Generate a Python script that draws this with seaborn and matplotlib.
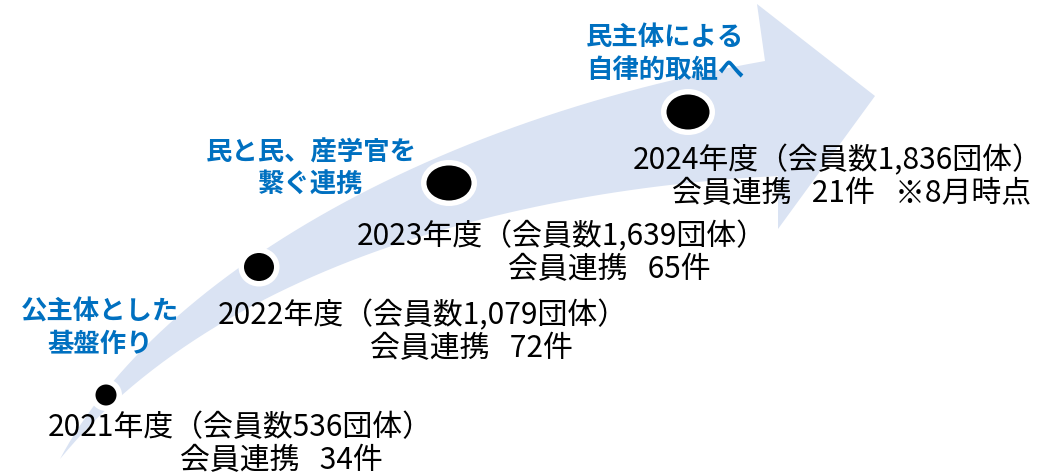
import numpy as np
import pandas as pd
import matplotlib.pyplot as plt
import seaborn as sns
from matplotlib.patches import Polygon, Ellipse

# データ
years = ["2021", "2022", "2023", "2024"]
members = ["536", "1,079", "1,639", "1,836"]
links = [34, 72, 65, 21]
notes = ["", "", "", "   ※8月時点"]
stages = ["公主体とした\n基盤作り", "民と民、産学官を\n繋ぐ連携", "民主体による\n自律的取組へ"]

# レイアウト (ピクセル座標)
dot_x = [106, 259, 449, 688]
dot_y = [396, 268, 184, 113]
dot_w = [21, 30, 45, 43]
dot_h = [21, 28, 35, 35]
line1_x = [48, 218, 357, 633]
line1_y = [428, 316, 237, 161]
line2_x = [180, 370, 508, 672]
stage_x = [100, 311, 665]
stage_y = [328, 169, 54]

sns.set_theme(style="white")
plt.rcParams['font.family'] = ['Noto Sans CJK JP', 'DejaVu Sans']

W, H = 1047, 477
fig = plt.figure(figsize=(W / 100, H / 100), dpi=100)
ax = fig.add_axes([0, 0, 1, 1])


def bezier(p0, p1, p2, p3, n=60):
    t = np.linspace(0, 1, n)[:, None]
    p0, p1, p2, p3 = map(np.array, (p0, p1, p2, p3))
    return (1 - t) ** 3 * p0 + 3 * (1 - t) ** 2 * t * p1 + 3 * (1 - t) * t ** 2 * p2 + t ** 3 * p3


# 矢印
upper = bezier((60, 460), (150, 290), (410, 125), (765, 62))
lower = bezier((778, 177), (520, 190), (220, 265), (60, 460))
head = np.array([(757, 5), (875, 97), (778, 230)])
pts = np.vstack([upper, head, lower])
ax.add_patch(Polygon(pts, closed=True, facecolor="#DAE3F3", edgecolor="none", zorder=1))

# 点 (白い縁取り付き)
df = pd.DataFrame({"x": dot_x, "y": dot_y, "w": dot_w, "h": dot_h})
for _, r in df.iterrows():
    ax.add_patch(Ellipse((r.x, r.y), r.w + 11, r.h + 11, facecolor="white", edgecolor="none", zorder=3))
    ax.add_patch(Ellipse((r.x, r.y), r.w, r.h, facecolor="black", edgecolor="none", zorder=4))

ax.set_xlim(0, W)
ax.set_ylim(H, 0)
ax.axis("off")

# ラベル
for i in range(4):
    ax.text(line1_x[i], line1_y[i], f"{years[i]}年度（会員数{members[i]}団体）",
            fontsize=21.5, ha="left", va="center", color="black", zorder=5)
    ax.text(line2_x[i], line1_y[i] + 33, f"会員連携   {links[i]}件{notes[i]}",
            fontsize=21.5, ha="left", va="center", color="black", zorder=5)

for i in range(3):
    ax.text(stage_x[i], stage_y[i], stages[i], fontsize=19, fontweight="bold",
            ha="center", va="center", color="#0070C0", linespacing=1.25, zorder=5)

fig.savefig("out.png", dpi=100)
